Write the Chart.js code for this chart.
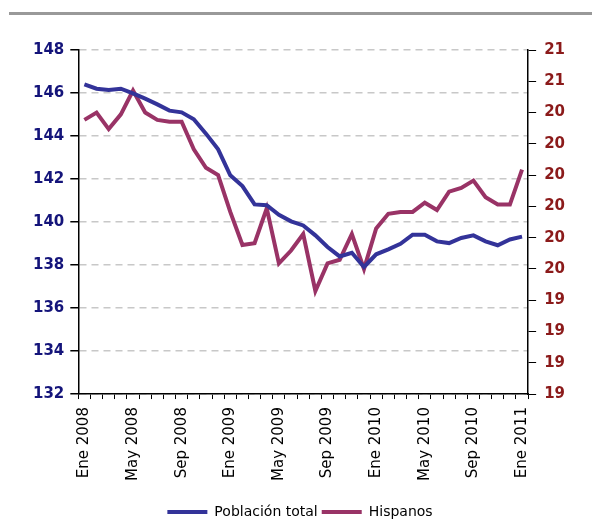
<!DOCTYPE html>
<html>
<head>
<meta charset="utf-8">
<script src="https://cdn.jsdelivr.net/npm/chart.js@4.4.1/dist/chart.umd.min.js"></script>
<style>
  body { margin: 0; background: #fff; }
  #wrap { position: relative; width: 592px; height: 532px; }
  #topline { position: absolute; left: 9px; right: 0; top: 12px; height: 3px; background: #999; }
</style>
</head>
<body>
<div id="wrap">
  <div id="topline"></div>
  <canvas id="chart" width="592" height="532"></canvas>
</div>
<script>
const monthNames = ["Ene","Feb","Mar","Abr","May","Jun","Jul","Ago","Sep","Oct","Nov","Dic"];
const years = [2008, 2009, 2010, 2011];

const poblacion = [146.40,146.20,146.14,146.20,145.98,145.74,145.47,145.18,145.10,144.78,144.11,143.38,
                   142.17,141.67,140.82,140.78,140.34,140.03,139.84,139.38,138.84,138.40,138.57,137.91,
                   138.50,138.73,138.99,139.41,139.41,139.10,139.02,139.26,139.38,139.10,138.92,139.19,
                   139.32];
const hispanos = [20.34,20.38,20.29,20.37,20.50,20.38,20.34,20.33,20.33,20.18,20.08,20.04,
                  19.84,19.66,19.67,19.86,19.56,19.63,19.72,19.41,19.56,19.58,19.72,19.53,
                  19.75,19.83,19.84,19.84,19.89,19.85,19.95,19.97,20.01,19.92,19.88,19.88,
                  20.07];

const leftTicks = [132, 134, 136, 138, 140, 142, 144, 146, 148];
const rightTicks = [18.85, 19.02, 19.19, 19.36, 19.53, 19.70, 19.87, 20.04, 20.21, 20.38, 20.55, 20.72];

let labels = [];
for (let y of years) {
    for (let m of monthNames) {
        labels.push(m + " " + y);
    }
}
labels = labels.slice(0, poblacion.length);

const blue = "#333399";
const wine = "#993366";

const ctx = document.getElementById("chart");

new Chart(ctx, {
  type: "line",
  data: {
    labels: labels,
    datasets: [
      {
        label: "Población total",
        data: poblacion,
        yAxisID: "y",
        borderColor: blue,
        backgroundColor: blue,
        borderWidth: 4,
        pointRadius: 0,
        tension: 0
      },
      {
        label: "Hispanos",
        data: hispanos,
        yAxisID: "y2",
        borderColor: wine,
        backgroundColor: wine,
        borderWidth: 4,
        pointRadius: 0,
        tension: 0
      }
    ]
  },
  options: {
    responsive: false,
    animation: false,
    layout: {
      padding: { left: 27, right: 19, top: 50, bottom: 3 }
    },
    plugins: {
      legend: {
        position: "bottom",
        labels: {
          boxWidth: 40,
          boxHeight: 4,
          padding: 4,
          color: "#000",
          font: { family: "DejaVu Sans", size: 14 },
          generateLabels: function(chart) {
            const items = Chart.defaults.plugins.legend.labels.generateLabels(chart);
            items.forEach(function(it) { it.lineWidth = 0; });
            return items;
          }
        }
      },
      tooltip: { enabled: false }
    },
    scales: {
      x: {
        offset: true,
        afterFit: function(axis) { axis.height += 12; },
        grid: {
          offset: true,
          drawOnChartArea: false,
          drawTicks: true,
          tickLength: 5,
          color: "#000"
        },
        border: { color: "#000", width: 1.5 },
        ticks: {
          autoSkip: false,
          minRotation: 90,
          maxRotation: 90,
          padding: 8,
          color: "#000",
          font: { family: "DejaVu Sans", size: 15 },
          callback: function(val, i) {
            return i % 4 === 0 ? labels[i] : "";
          }
        }
      },
      y: {
        position: "left",
        min: 132,
        max: 148,
        afterBuildTicks: function(axis) {
          axis.ticks = leftTicks.map(function(v) { return { value: v }; });
        },
        grid: {
          color: "#c8c8c8",
          lineWidth: 1.5,
          tickLength: 8,
          tickColor: "#000"
        },
        border: { color: "#000", width: 1.5, dash: [7, 5] },
        ticks: {
          padding: 6,
          color: "#14147a",
          font: { family: "DejaVu Sans", size: 15, weight: "bold" }
        }
      },
      y2: {
        position: "right",
        min: rightTicks[0],
        max: rightTicks[rightTicks.length - 1],
        afterBuildTicks: function(axis) {
          axis.ticks = rightTicks.map(function(v) { return { value: v }; });
        },
        grid: {
          drawOnChartArea: false,
          tickLength: 8,
          tickColor: "#000"
        },
        border: { color: "#000", width: 1.5 },
        ticks: {
          padding: 8,
          color: "#8b1a1a",
          font: { family: "DejaVu Sans", size: 15, weight: "bold" },
          callback: function(v) { return Math.round(v); }
        }
      }
    }
  }
});
</script>
</body>
</html>
